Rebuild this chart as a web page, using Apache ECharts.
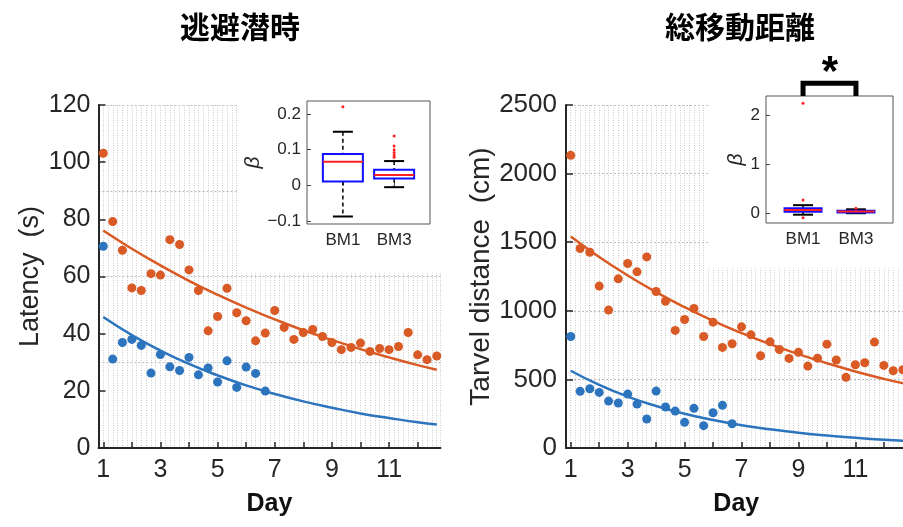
<!DOCTYPE html>
<html><head><meta charset="utf-8">
<script src="https://cdn.jsdelivr.net/npm/echarts@6/dist/echarts.min.js"></script>
<style>html,body{margin:0;padding:0;background:#fff}#c{width:903px;height:527px}</style>
</head><body><div id="c"></div>
<script>
// ---------- data ----------
const sessionDays = [1,1.33,1.67,2,2.33,2.67,3,3.33,3.67,4,4.33,4.67,5,5.33,5.67,6,6.33,6.67,7,7.33,7.67,8,8.33,8.67,9,9.33,9.67,10,10.33,10.67,11,11.33,11.67,12,12.33,12.67];
const latencyOrange = [103.1,79.2,69.2,56.0,55.1,61.0,60.5,72.9,71.2,62.3,55.1,41.0,46.0,55.9,47.3,44.5,37.5,40.2,48.1,42.2,38.0,40.4,41.5,39.0,36.9,34.4,35.2,36.7,33.8,34.8,34.4,35.5,40.4,32.6,30.9,32.2];
const latencyBlue = [70.6,31.1,36.9,38.0,35.9,26.2,32.7,28.4,27.1,31.7,25.6,28.0,23.1,30.5,21.2,28.3,26.1,19.9];
const distOrange = [2133,1454,1427,1180,1005,1233,1345,1284,1393,1141,1070,857,937,1017,813,917,733,760,883,825,672,774,718,653,697,597,655,757,641,515,607,621,772,602,563,570];
const distBlue = [813,413,432,405,342,328,393,320,211,415,299,269,187,289,163,257,311,177];
const fitDaysLatency = [1,2,3,4,5,6,7,8,9,10,11,12,12.67];
const latencyFitOrange = [76.1,69.7,63.9,58.5,53.6,49.1,45.0,41.2,37.8,34.6,31.7,29.0,27.4];
const latencyFitBlue = [45.8,39.5,34.1,29.4,25.4,21.9,18.9,16.3,14.1,12.1,10.5,9.0,8.2];
const fitDaysDist = [1,2,3,4,5,6,7,8,9,10,11,12,12.8];
const distFitOrange = [1541,1392,1258,1136,1026,927,838,757,684,618,558,504,466];
const distFitBlue = [563,460,375,306,250,204,166,136,111,91,74,60,52];
const xTickDays = [1,2,3,4,5,6,7,8,9,10,11,12];
const xLabelDays = [1,3,5,7,9,11];
const boxGroups = ['BM1','BM3'];
// [lower whisker, q1, median, q3, upper whisker]
const betaLatency = [[-0.087,0.011,0.066,0.088,0.150],[-0.005,0.019,0.029,0.044,0.068]];
const betaLatencyOutliers = [['BM1',0.22],['BM3',0.138],['BM3',0.11],['BM3',0.10],['BM3',0.092],['BM3',0.085],['BM3',0.079]];
const betaDist = [[-0.03,0.03,0.065,0.10,0.165],[0.0,0.015,0.035,0.05,0.08]];
const betaDistOutliers = [['BM1',2.25],['BM1',0.27],['BM1',-0.09],['BM3',0.1]];
const betaLatencyTicks = [-0.1,0,0.1,0.2];
const betaDistTicks = [0,1,2];
const sigPair = ['BM1','BM3'];

// ---------- helpers ----------
const ORANGE = '#D95A24', BLUE = '#2C74BE', AX = '#262626';
const FONT = '"Liberation Sans", Arial, sans-serif';
const pairs = (xs, ys) => ys.map((v, i) => [xs[i], v]);
const grpPos = g => boxGroups.indexOf(g) + 1;
const boxData = arr => arr.map((r, i) => [i + 1].concat(r));
const outData = arr => arr.map(r => [grpPos(r[0]), r[1]]);
const minusFmt = v => (v < 0 ? '\u2212' + Math.abs(v) : String(v));

function boxRender(halfW, capW) {
  return function (params, api) {
    const x = api.value(0);
    const lo = api.coord([x, api.value(1)]);
    const q1 = api.coord([x, api.value(2)]);
    const md = api.coord([x, api.value(3)]);
    const q3 = api.coord([x, api.value(4)]);
    const hi = api.coord([x, api.value(5)]);
    const cx = lo[0];
    const dash = {stroke: '#000', lineWidth: 1.5, lineDash: [4, 3]};
    const cap = {stroke: '#000', lineWidth: 2};
    return {type: 'group', children: [
      {type: 'line', shape: {x1: cx, y1: hi[1], x2: cx, y2: q3[1]}, style: dash},
      {type: 'line', shape: {x1: cx, y1: q1[1], x2: cx, y2: lo[1]}, style: dash},
      {type: 'line', shape: {x1: cx - capW, y1: hi[1], x2: cx + capW, y2: hi[1]}, style: cap},
      {type: 'line', shape: {x1: cx - capW, y1: lo[1], x2: cx + capW, y2: lo[1]}, style: cap},
      {type: 'rect', shape: {x: cx - halfW, y: q3[1], width: 2 * halfW, height: q1[1] - q3[1]}, style: {stroke: '#1010ff', fill: '#fff', lineWidth: 2}},
      {type: 'line', shape: {x1: cx - halfW, y1: md[1], x2: cx + halfW, y2: md[1]}, style: {stroke: '#ff2020', lineWidth: 2}}
    ]};
  };
}

function mainX(grid, name) {
  return {gridIndex: grid, type: 'value', min: 5/6, max: 12.8, position: 'bottom',
    axisLine: {show: true, onZero: false, lineStyle: {color: AX, width: 2}},
    axisTick: {show: true, inside: true, length: 6, lineStyle: {color: AX, width: 1.5}, customValues: xTickDays},
    axisLabel: {show: true, customValues: xLabelDays, fontSize: 25, color: AX, margin: 10, fontFamily: FONT},
    splitLine: {show: false},
    name: name, nameLocation: 'middle', nameGap: 44,
    nameTextStyle: {fontSize: 25, fontWeight: 'bold', color: '#111', fontFamily: FONT}};
}
function gridX(grid) {
  return {gridIndex: grid, type: 'value', min: 5, max: 76.8, interval: 1, position: 'top',
    axisLine: {show: false}, axisTick: {show: false}, axisLabel: {show: false},
    splitLine: {show: true, lineStyle: {color: '#cacaca', width: 1, type: [1, 1.5]}}};
}
const gridLineStyle = {show: true, lineStyle: {color: '#bdbdbd', width: 1, type: [2, 2]}};

function insetX(grid) {
  return {gridIndex: grid, type: 'value', min: 0.3, max: 2.7, z: 5,
    axisLine: {show: false},
    axisTick: {show: true, inside: true, length: 4, customValues: [1, 2], lineStyle: {color: '#444', width: 1}},
    axisLabel: {show: true, customValues: [1, 2], formatter: v => boxGroups[Math.round(v) - 1] || '', fontSize: 17, color: AX, margin: 8, fontFamily: FONT},
    splitLine: {show: false}};
}
function insetY(grid, min, max, ticks, gap) {
  return {gridIndex: grid, type: 'value', min: min, max: max, z: 5,
    axisLine: {show: false},
    axisTick: {show: true, inside: true, length: 4, customValues: ticks, lineStyle: {color: '#444', width: 1}},
    axisLabel: {show: true, customValues: ticks, formatter: minusFmt, fontSize: 17, color: AX, margin: 6, fontFamily: FONT},
    splitLine: {show: false},
    name: '\u03B2', nameLocation: 'middle', nameGap: gap, nameRotate: 90,
    nameTextStyle: {fontSize: 21, fontStyle: 'italic', color: AX, fontFamily: FONT}};
}

const chart = echarts.init(document.getElementById('c'), null, {renderer: 'canvas'});
chart.setOption({
  backgroundColor: '#fff',
  animation: false,
  grid: [
    {left: 98.5, top: 105, width: 342, height: 343, outerBoundsMode: 'none', containLabel: false},
    {left: 566, top: 105, width: 340.6, height: 343, outerBoundsMode: 'none', containLabel: false},
    {left: 307, top: 101, width: 123, height: 123, show: true, backgroundColor: '#fff', borderColor: '#555', borderWidth: 1, z: 4, outerBoundsMode: 'none', containLabel: false},
    {left: 766, top: 96, width: 127, height: 127, show: true, backgroundColor: '#fff', borderColor: '#555', borderWidth: 1, z: 4, outerBoundsMode: 'none', containLabel: false}
  ],
  xAxis: [mainX(0, 'Day'), gridX(0), mainX(1, 'Day'), gridX(1), insetX(2), insetX(3)],
  yAxis: [
    {gridIndex: 0, type: 'value', min: 0, max: 120, interval: 20,
      axisLine: {show: true, onZero: false, lineStyle: {color: AX, width: 2}},
      axisTick: {show: true, inside: true, length: 7, lineStyle: {color: AX, width: 1.5}},
      axisLabel: {fontSize: 25, color: AX, margin: 8, fontFamily: FONT, formatter: v => String(v)},
      splitLine: {show: false},
      name: 'Latency  (s)', nameLocation: 'middle', nameGap: 54, nameRotate: 90,
      nameTextStyle: {fontSize: 27, color: AX, fontFamily: FONT}},
    {gridIndex: 0, type: 'value', min: 0, max: 120, interval: 30, position: 'left',
      axisLine: {show: false}, axisTick: {show: false}, axisLabel: {show: false}, splitLine: gridLineStyle},
    {gridIndex: 1, type: 'value', min: 0, max: 2500, interval: 500,
      axisLine: {show: true, onZero: false, lineStyle: {color: AX, width: 2}},
      axisTick: {show: true, inside: true, length: 7, lineStyle: {color: AX, width: 1.5}},
      axisLabel: {fontSize: 26, color: AX, margin: 9, fontFamily: FONT, formatter: v => String(v)},
      splitLine: gridLineStyle,
      name: 'Tarvel distance  (cm)', nameLocation: 'middle', nameGap: 70, nameRotate: 90,
      nameTextStyle: {fontSize: 28, color: AX, fontFamily: FONT}},
    insetY(2, -0.108, 0.236, betaLatencyTicks, 36),
    insetY(3, -0.2, 2.4, betaDistTicks, 12)
  ],
  graphic: [
    {type: 'rect', z: 1, shape: {x: 237.5, y: 94, width: 204, height: 178.5}, style: {fill: '#fff'}},
    {type: 'rect', z: 1, shape: {x: 708, y: 94, width: 200, height: 174}, style: {fill: '#fff'}},
    {type: 'text', z: 10, x: 240, y: 27, style: {text: '逃避潜時', fontSize: 30, fontWeight: 'bold', fontFamily: '"Noto Sans CJK JP"', fill: '#000', align: 'center', verticalAlign: 'middle'}},
    {type: 'text', z: 10, x: 740, y: 27, style: {text: '総移動距離', fontSize: 30, fontWeight: 'bold', fontFamily: '"Noto Sans CJK JP"', fill: '#000', align: 'center', verticalAlign: 'middle'}},
    {type: 'text', z: 10, x: 830, y: 73, style: {text: '*', fontSize: 42, fontWeight: 'bold', fontFamily: FONT, fill: '#000', align: 'center', verticalAlign: 'middle'}}
  ],
  series: [
    {type: 'scatter', xAxisIndex: 0, yAxisIndex: 0, data: pairs(sessionDays, latencyOrange), symbolSize: 9, itemStyle: {color: ORANGE, opacity: 1}, z: 2},
    {type: 'scatter', xAxisIndex: 0, yAxisIndex: 0, data: pairs(sessionDays, latencyBlue), symbolSize: 9, itemStyle: {color: BLUE, opacity: 1}, z: 2},
    {type: 'line', xAxisIndex: 0, yAxisIndex: 0, data: pairs(fitDaysLatency, latencyFitOrange), smooth: true, symbol: 'none', lineStyle: {color: ORANGE, width: 2.5}, z: 3},
    {type: 'line', xAxisIndex: 0, yAxisIndex: 0, data: pairs(fitDaysLatency, latencyFitBlue), smooth: true, symbol: 'none', lineStyle: {color: BLUE, width: 2.5}, z: 3},
    {type: 'scatter', xAxisIndex: 2, yAxisIndex: 2, data: pairs(sessionDays, distOrange), symbolSize: 9, itemStyle: {color: ORANGE, opacity: 1}, z: 2},
    {type: 'scatter', xAxisIndex: 2, yAxisIndex: 2, data: pairs(sessionDays, distBlue), symbolSize: 9, itemStyle: {color: BLUE, opacity: 1}, z: 2},
    {type: 'line', xAxisIndex: 2, yAxisIndex: 2, data: pairs(fitDaysDist, distFitOrange), smooth: true, symbol: 'none', lineStyle: {color: ORANGE, width: 2.5}, z: 3},
    {type: 'line', xAxisIndex: 2, yAxisIndex: 2, data: pairs(fitDaysDist, distFitBlue), smooth: true, symbol: 'none', lineStyle: {color: BLUE, width: 2.5}, z: 3},
    {type: 'custom', xAxisIndex: 4, yAxisIndex: 3, data: boxData(betaLatency), encode: {x: 0, y: [1, 2, 3, 4, 5]}, renderItem: boxRender(20, 10), z: 6},
    {type: 'scatter', xAxisIndex: 4, yAxisIndex: 3, data: outData(betaLatencyOutliers), symbolSize: 3, itemStyle: {color: '#ff2020', opacity: 1}, z: 7},
    {type: 'custom', xAxisIndex: 5, yAxisIndex: 4, data: boxData(betaDist), encode: {x: 0, y: [1, 2, 3, 4, 5]}, renderItem: boxRender(18.5, 10), z: 6},
    {type: 'scatter', xAxisIndex: 5, yAxisIndex: 4, data: outData(betaDistOutliers), symbolSize: 3, itemStyle: {color: '#ff2020', opacity: 1}, z: 7},
    {type: 'line', xAxisIndex: 5, yAxisIndex: 4, clip: false, symbol: 'none', z: 7,
      data: [[grpPos(sigPair[0]), 2.4], [grpPos(sigPair[0]), 2.66], [grpPos(sigPair[1]), 2.66], [grpPos(sigPair[1]), 2.4]],
      lineStyle: {color: '#000', width: 5, join: 'miter', cap: 'butt'}}
  ]
});
</script>
</body></html>
